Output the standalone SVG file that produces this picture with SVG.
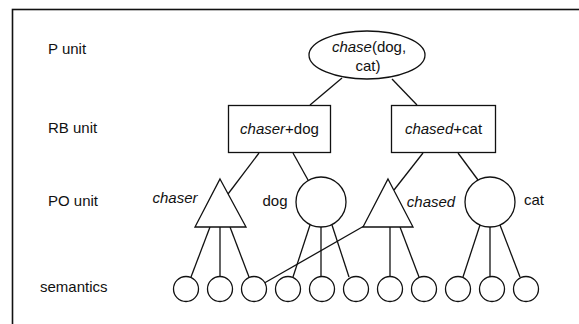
<svg xmlns="http://www.w3.org/2000/svg" width="579" height="324" viewBox="0 0 579 324">
<style>
text{font-family:"Liberation Sans",Arial,sans-serif;font-size:15px;fill:#111}
.it{font-style:italic}
.s{fill:#fff;stroke:#111;stroke-width:1.3}
.c line{stroke:#111;stroke-width:1.3}
</style>
<rect x="0" y="0" width="579" height="324" fill="#fff"/>
<rect x="12.5" y="9.5" width="620" height="400" fill="none" stroke="#111" stroke-width="1.6"/>
<g id="labels">
<text x="48" y="54">P unit</text>
<text x="48" y="133">RB unit</text>
<text x="48" y="206">PO unit</text>
<text x="40" y="292">semantics</text>
</g>
<g class="c" id="connectors">
<line x1="342" y1="78" x2="310" y2="105"/>
<line x1="392" y1="79" x2="417" y2="105"/>
<line x1="259" y1="153" x2="228" y2="194"/>
<line x1="293" y1="153" x2="308" y2="180"/>
<line x1="423" y1="153" x2="394" y2="190"/>
<line x1="458" y1="153" x2="478" y2="180"/>
<line x1="210" y1="227" x2="191" y2="277"/>
<line x1="220" y1="227" x2="220" y2="276.5"/>
<line x1="230" y1="227" x2="249" y2="277"/>
<line x1="310" y1="225" x2="293" y2="277"/>
<line x1="321" y1="227" x2="321" y2="276.5"/>
<line x1="332" y1="225" x2="349" y2="277"/>
<line x1="364" y1="226" x2="264.8" y2="282.8"/>
<line x1="390" y1="227" x2="390" y2="276.5"/>
<line x1="400" y1="227" x2="419" y2="277"/>
<line x1="480" y1="225" x2="463" y2="277"/>
<line x1="490" y1="227" x2="490" y2="276.5"/>
<line x1="500" y1="225" x2="520" y2="277"/>
</g>
<g id="p-chase">
<ellipse class="s" cx="367" cy="55" rx="58" ry="24"/>
<text x="369" y="52" text-anchor="middle"><tspan class="it">chase</tspan>(dog,</text>
<text x="368" y="71" text-anchor="middle">cat)</text>
</g>
<g id="rb-chaser-dog">
<rect class="s" x="228.5" y="105.5" width="102" height="47"/>
<text x="279.5" y="134" text-anchor="middle"><tspan class="it">chaser</tspan>+dog</text>
</g>
<g id="rb-chased-cat">
<rect class="s" x="391.5" y="105.5" width="104" height="47"/>
<text x="443.5" y="134" text-anchor="middle"><tspan class="it">chased</tspan>+cat</text>
</g>
<g id="po-chaser">
<polygon class="s" points="220,179 246,227 195,227"/>
<text class="it" x="175" y="203" text-anchor="middle">chaser</text>
</g>
<g id="po-dog">
<circle class="s" cx="321" cy="202" r="25"/>
<text x="275" y="206" text-anchor="middle">dog</text>
</g>
<g id="po-chased">
<polygon class="s" points="388,179 413,227 363,227"/>
<text class="it" x="431" y="207" text-anchor="middle">chased</text>
</g>
<g id="po-cat">
<circle class="s" cx="490" cy="202" r="25"/>
<text x="534" y="205" text-anchor="middle">cat</text>
</g>
<g id="semantics">
<circle class="s" cx="186" cy="289" r="12.5"/>
<circle class="s" cx="220" cy="289" r="12.5"/>
<circle class="s" cx="254" cy="289" r="12.5"/>
<circle class="s" cx="288" cy="289" r="12.5"/>
<circle class="s" cx="322" cy="289" r="12.5"/>
<circle class="s" cx="356" cy="289" r="12.5"/>
<circle class="s" cx="390" cy="289" r="12.5"/>
<circle class="s" cx="424" cy="289" r="12.5"/>
<circle class="s" cx="458" cy="289" r="12.5"/>
<circle class="s" cx="492" cy="289" r="12.5"/>
<circle class="s" cx="526" cy="289" r="12.5"/>
</g>
</svg>
